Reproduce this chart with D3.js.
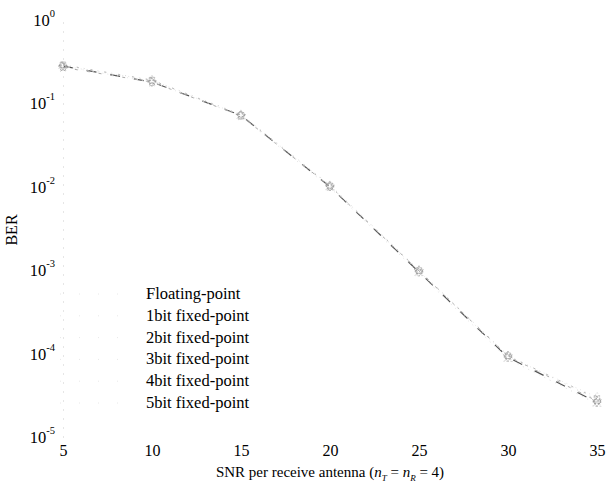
<!DOCTYPE html>
<html>
<head>
<meta charset="utf-8">
<script src="https://cdn.jsdelivr.net/npm/d3@7"></script>
<style>
  body { margin: 0; background: #fff; }
  svg text { font-family: "Liberation Serif", "DejaVu Serif", serif; fill: #000; }
</style>
</head>
<body>
<div id="chart"></div>
<script>
// SNR points (dB)
const snr = [5, 10, 15, 20, 25, 30, 35];

// BER per series
const berFloat = [0.29, 0.19, 0.074, 0.0105, 0.00100, 0.000095, 0.000028];
const ber1bit = [0.28, 0.18, 0.072, 0.0100, 0.00095, 0.000090, 0.000026];
const ber2bit = [0.28, 0.19, 0.070, 0.0098, 0.00092, 0.000086, 0.000025];
const ber3bit = [0.27, 0.18, 0.071, 0.0101, 0.00098, 0.000093, 0.000027];
const ber4bit = [0.28, 0.18, 0.073, 0.0103, 0.00097, 0.000092, 0.000030];
const ber5bit = [0.29, 0.19, 0.072, 0.0102, 0.00099, 0.000094, 0.000029];

const seriesNames = ["Floating-point", "1bit fixed-point", "2bit fixed-point",
  "3bit fixed-point", "4bit fixed-point", "5bit fixed-point"];
const seriesData = [berFloat, ber1bit, ber2bit, ber3bit, ber4bit, ber5bit];

const xTicks = [5, 10, 15, 20, 25, 30, 35];
const yTicks = [1, 1e-1, 1e-2, 1e-3, 1e-4, 1e-5];

const w = 608, h = 490;

// look of each curve (faded scan, mostly very light broken lines)
const styles = [
  { stroke: "#d8d8d8", dash: "1,6", width: 1 },
  { stroke: "#555", dash: "10,14", width: 1.2 },
  { stroke: "#e2e2e2", dash: "1,5", width: 1 },
  { stroke: "#aaa", dash: "3,9", width: 1 },
  { stroke: "#e8e8e8", dash: "1,4", width: 1 },
  { stroke: "#bbb", dash: "2,12", width: 1 }
];

const svg = d3.select("#chart").append("svg")
  .attr("width", w)
  .attr("height", h);

const xScale = d3.scaleLinear().domain([5, 35]).range([63, 597]);
const yScale = d3.scaleLog().domain([1e-5, 1]).range([437, 20]);

// axes - nearly invisible in the scan
const xAxis = d3.axisBottom(xScale).tickValues(xTicks).tickSize(0).tickPadding(8)
  .tickFormat(d3.format("d"));
const gx = svg.append("g")
  .attr("transform", "translate(0," + 437 + ")")
  .call(xAxis);
gx.select(".domain").remove();
gx.selectAll("text").style("font-size", "16px")
  .attr("font-family", null).attr("fill", "#000");

const yAxis = d3.axisLeft(yScale).tickValues(yTicks).tickSize(0).tickFormat("");
const gy = svg.append("g")
  .attr("transform", "translate(63,0)")
  .call(yAxis);
gy.select(".domain")
  .attr("stroke", "#ccc")
  .attr("stroke-dasharray", "1,8");

// y tick labels as 10^k
yTicks.forEach(function (t) {
  const k = Math.round(Math.log10(t));
  const txt = svg.append("text")
    .attr("x", 55)
    .attr("y", yScale(t) + 6)
    .attr("text-anchor", "end")
    .style("font-size", "16.5px");
  txt.append("tspan").text("10");
  txt.append("tspan")
    .attr("dy", -9)
    .style("font-size", "10.5px")
    .text(k === 0 ? "0" : String(k));
});

// axis titles
svg.append("text")
  .attr("transform", "translate(17," + 230 + ") rotate(-90)")
  .attr("text-anchor", "middle")
  .style("font-size", "16px")
  .text("BER");

const xt = svg.append("text")
  .attr("x", 330)
  .attr("y", 477)
  .attr("text-anchor", "middle")
  .style("font-size", "15px");
xt.append("tspan").text("SNR per receive antenna (");
xt.append("tspan").style("font-style", "italic").text("n");
xt.append("tspan").attr("dy", 4).style("font-size", "9px").style("font-style", "italic").text("T");
xt.append("tspan").attr("dy", -4).text(" = ");
xt.append("tspan").style("font-style", "italic").text("n");
xt.append("tspan").attr("dy", 4).style("font-size", "9px").style("font-style", "italic").text("R");
xt.append("tspan").attr("dy", -4).text(" = 4)");

// curves
const line = d3.line()
  .x(function (d, i) { return xScale(snr[i]); })
  .y(function (d) { return yScale(d); });

seriesData.forEach(function (vals, s) {
  svg.append("path")
    .datum(vals)
    .attr("fill", "none")
    .attr("stroke", styles[s].stroke)
    .attr("stroke-width", styles[s].width)
    .attr("stroke-dasharray", styles[s].dash)
    .attr("d", line);
});

// markers
const symbols = [d3.symbolCircle, d3.symbolCross, d3.symbolTriangle,
  d3.symbolStar, d3.symbolDiamond, d3.symbolSquare];
const markColor = ["#bbb", "#777", "#ccc", "#999", "#ddd", "#aaa"];
seriesData.forEach(function (vals, s) {
  svg.append("g").selectAll("path")
    .data(vals)
    .enter()
    .append("path")
    .attr("transform", function (d, i) {
      return "translate(" + xScale(snr[i]) + "," + yScale(d) + ")";
    })
    .attr("d", d3.symbol().type(symbols[s]).size(30))
    .attr("fill", "none")
    .attr("stroke", markColor[s])
    .attr("stroke-width", 0.8)
    .attr("stroke-dasharray", "2,2");
});

// legend (line samples are almost faded out)
seriesNames.forEach(function (name, i) {
  const y = 299 + i * 21.8;
  svg.append("line")
    .attr("x1", 60).attr("x2", 130)
    .attr("y1", y - 5).attr("y2", y - 5)
    .attr("stroke", "#e8e8e8")
    .attr("stroke-dasharray", "1,18");
  svg.append("text")
    .attr("x", 146)
    .attr("y", y)
    .style("font-size", "16.5px")
    .text(name);
});
</script>
</body>
</html>
